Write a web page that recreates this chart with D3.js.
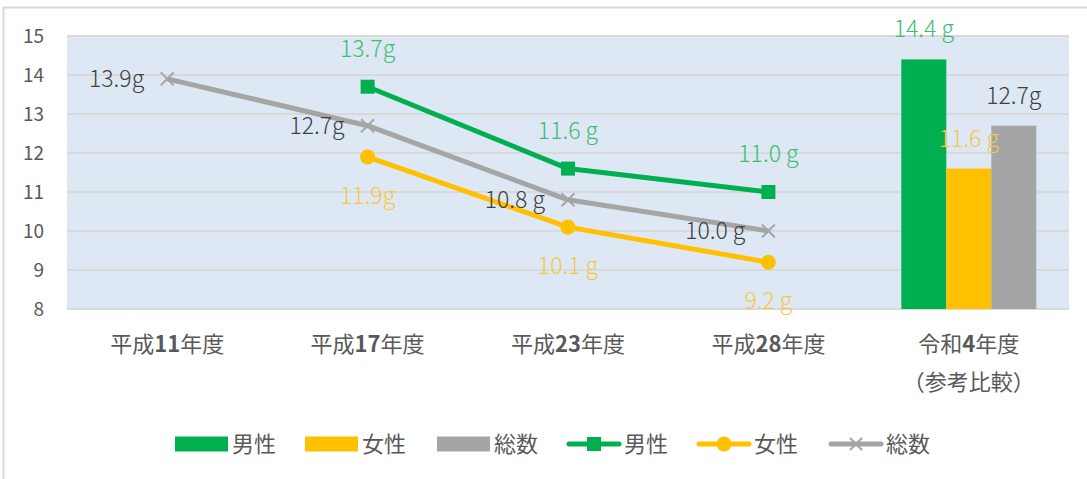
<!DOCTYPE html>
<html>
<head>
<meta charset="utf-8">
<script src="https://cdn.jsdelivr.net/npm/d3@7"></script>
<style>
  body { margin: 0; background: #fff; }
  text { font-family: "Noto Sans CJK JP", "Noto Sans", sans-serif; }
</style>
</head>
<body>
<svg id="chart" width="1087" height="479"></svg>
<script>
// categories and values
let categories = ["平成11年度", "平成17年度", "平成23年度", "平成28年度", "令和4年度"];
let catLines = [["平成11年度"], ["平成17年度"], ["平成23年度"], ["平成28年度"], ["令和4年度", "（参考比較）"]];
let maleLine = [null, 13.7, 11.6, 11.0];
let femaleLine = [null, 11.9, 10.1, 9.2];
let totalLine = [13.9, 12.7, 10.8, 10.0];
let barSeries = ["男性", "女性", "総数"];
let barValues = [14.4, 11.6, 12.7];
let barLabels = ["14.4 g", "11.6 g", "12.7g"];
let maleLabels = [null, "13.7g", "11.6 g", "11.0 g"];
let femaleLabels = [null, "11.9g", "10.1 g", "9.2 g"];
let totalLabels = ["13.9g", "12.7g", "10.8 g", "10.0 g"];
let yTicks = [8, 9, 10, 11, 12, 13, 14, 15];

let green = "#00b050", yellow = "#ffc000", gray = "#a5a5a5";
let colors = [green, yellow, gray];
let labelColors = ["#3dbd6f", "#f5c842", "#404040"];

let svg = d3.select("#chart");

// outer frame
svg.append("rect")
  .attr("x", 3.5).attr("y", 7.5)
  .attr("width", 1100).attr("height", 500)
  .attr("fill", "none").attr("stroke", "#d9d9d9").attr("stroke-width", 2);

let plotL = 67, plotR = 1069, plotT = 36, plotB = 309;

let x = d3.scaleBand().domain(categories).range([plotL, plotR]);
let y = d3.scaleLinear().domain([8, 15]).range([plotB, plotT]);

// plot background
svg.append("rect")
  .attr("x", plotL).attr("y", plotT)
  .attr("width", plotR - plotL).attr("height", plotB - plotT)
  .attr("fill", "#dde8f4");

// gridlines
svg.selectAll(".grid")
  .data(yTicks)
  .enter()
  .append("line")
  .attr("x1", plotL).attr("x2", plotR)
  .attr("y1", d => y(d)).attr("y2", d => y(d))
  .attr("stroke", "#d9d9d9").attr("stroke-width", 2);

// y tick labels
svg.selectAll(".ytick")
  .data(yTicks)
  .enter()
  .append("text")
  .attr("x", 44)
  .attr("y", d => y(d))
  .attr("dy", "0.35em")
  .attr("text-anchor", "end")
  .attr("font-size", 19)
  .attr("fill", "#595959")
  .text(d => d);

// x labels (digits come out bold in the original)
let xl = svg.selectAll(".xlab")
  .data(categories)
  .enter()
  .append("text")
  .attr("text-anchor", "middle")
  .attr("font-size", 22)
  .attr("fill", "#595959");
xl.each(function(d, i) {
  let t = d3.select(this);
  catLines[i].forEach((s, j) => {
    let row = t.append("tspan")
      .attr("x", x(d) + x.bandwidth() / 2)
      .attr("y", 352 + j * 38);
    s.split(/(\d+)/).filter(p => p).forEach(p => {
      row.append("tspan")
        .attr("font-weight", /\d/.test(p) ? 700 : 400)
        .text(p);
    });
  });
});

// bars for the last category
let inner = d3.scaleBand().domain(barSeries).range([0, 135]);
let gx = x("令和4年度") + x.bandwidth() / 2 - 67.5;
svg.selectAll(".bar")
  .data(barValues)
  .enter()
  .append("rect")
  .attr("x", (d, i) => gx + inner(barSeries[i]))
  .attr("y", d => y(d))
  .attr("width", inner.bandwidth())
  .attr("height", d => plotB - y(d))
  .attr("fill", (d, i) => colors[i]);

svg.selectAll(".barlab")
  .data(barValues)
  .enter()
  .append("text")
  .attr("x", (d, i) => gx + inner(barSeries[i]) + inner.bandwidth() / 2)
  .attr("y", d => y(d) - 30)
  .attr("dy", "0.35em")
  .attr("text-anchor", "middle")
  .attr("font-size", 23)
  .attr("font-weight", 300)
  .attr("fill", (d, i) => labelColors[i])
  .text((d, i) => barLabels[i]);

// lines
let cx = i => x(categories[i]) + x.bandwidth() / 2;
let line = d3.line()
  .defined(d => d != null)
  .x((d, i) => cx(i))
  .y(d => y(d));

function drawLine(data, color) {
  svg.append("path")
    .attr("d", line(data))
    .attr("fill", "none")
    .attr("stroke", color)
    .attr("stroke-width", 5)
    .attr("stroke-linejoin", "round");
}
drawLine(maleLine, green);
drawLine(femaleLine, yellow);
drawLine(totalLine, gray);

// markers
let pts = d => d.map((v, i) => ({ v: v, i: i })).filter(p => p.v != null);

svg.selectAll(".msq")
  .data(pts(maleLine))
  .enter()
  .append("rect")
  .attr("x", p => cx(p.i) - 7)
  .attr("y", p => y(p.v) - 7)
  .attr("width", 14).attr("height", 14)
  .attr("fill", green);

svg.selectAll(".mci")
  .data(pts(femaleLine))
  .enter()
  .append("circle")
  .attr("cx", p => cx(p.i))
  .attr("cy", p => y(p.v))
  .attr("r", 7.5)
  .attr("fill", yellow);

svg.selectAll(".mx")
  .data(pts(totalLine))
  .enter()
  .append("path")
  .attr("d", p => {
    let a = cx(p.i), b = y(p.v), s = 6.5;
    return `M${a - s},${b - s}L${a + s},${b + s}M${a - s},${b + s}L${a + s},${b - s}`;
  })
  .attr("stroke", gray)
  .attr("stroke-width", 2);

// line labels
function labels(cls, data, texts, color, dx, dyPx, anchor) {
  svg.selectAll("." + cls)
    .data(pts(data))
    .enter()
    .append("text")
    .attr("x", p => cx(p.i) + dx)
    .attr("y", p => y(p.v) + dyPx)
    .attr("dy", "0.35em")
    .attr("text-anchor", anchor)
    .attr("font-size", 23)
    .attr("font-weight", 300)
    .attr("fill", color)
    .text(p => texts[p.i]);
}
labels("mlab", maleLine, maleLabels, labelColors[0], 0, -38, "middle");
labels("flab", femaleLine, femaleLabels, labelColors[1], 0, 39, "middle");
labels("tlab", totalLine, totalLabels, labelColors[2], -23, 0, "end");

// legend
let legend = [
  { kind: "bar", name: "男性", color: green, x: 175 },
  { kind: "bar", name: "女性", color: yellow, x: 305 },
  { kind: "bar", name: "総数", color: gray, x: 437 },
  { kind: "sq", name: "男性", color: green, x: 567 },
  { kind: "ci", name: "女性", color: yellow, x: 697 },
  { kind: "x", name: "総数", color: gray, x: 829 }
];
let ly = 444;
legend.forEach(l => {
  let g = svg.append("g");
  if (l.kind === "bar") {
    g.append("rect").attr("x", l.x).attr("y", ly - 7.5).attr("width", 53).attr("height", 15).attr("fill", l.color);
  } else {
    g.append("line").attr("x1", l.x + 2).attr("x2", l.x + 52).attr("y1", ly).attr("y2", ly)
      .attr("stroke", l.color).attr("stroke-width", 5).attr("stroke-linecap", "round");
    let m = l.x + 27;
    if (l.kind === "sq") {
      g.append("rect").attr("x", m - 7).attr("y", ly - 7).attr("width", 14).attr("height", 14).attr("fill", l.color);
    } else if (l.kind === "ci") {
      g.append("circle").attr("cx", m).attr("cy", ly).attr("r", 7.5).attr("fill", l.color);
    } else {
      g.append("path").attr("d", `M${m - 6},${ly - 6}L${m + 6},${ly + 6}M${m - 6},${ly + 6}L${m + 6},${ly - 6}`)
        .attr("stroke", l.color).attr("stroke-width", 2);
    }
  }
  g.append("text")
    .attr("x", l.x + 57)
    .attr("y", ly)
    .attr("dy", "0.35em")
    .attr("font-size", 22)
    .attr("fill", "#595959")
    .text(l.name);
});
</script>
</body>
</html>
